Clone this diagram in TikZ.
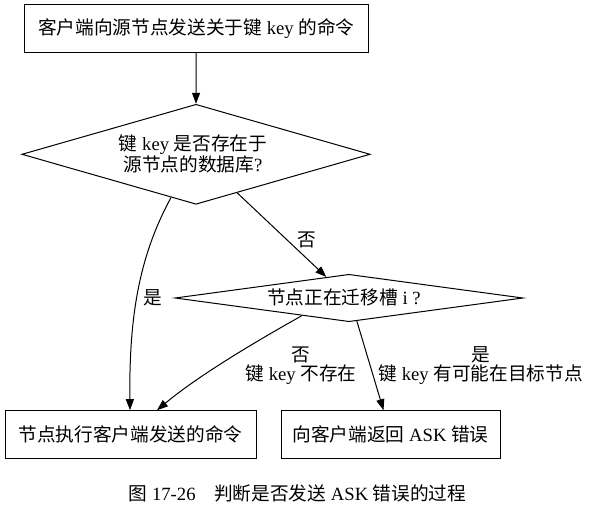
\documentclass[tikz,border=0pt]{standalone}
\usepackage{fontspec}
\setmainfont{Liberation Serif}
\newfontfamily\cjkfont{Noto Sans CJK SC}
\newcommand\zh[1]{{\cjkfont #1}}
\usetikzlibrary{arrows.meta,shapes.geometric,calc}
\tikzset{
  txt/.style={font=\fontsize{18.67}{19}\selectfont, inner sep=0pt, align=center},
  procbox/.style={draw, line width=1pt, rectangle, inner sep=0pt, minimum width=#1, minimum height=47.6pt, font=\fontsize{18.67}{19}\selectfont},
  decision/.style={draw, line width=1pt, diamond, inner sep=0pt},
  link/.style={draw, line width=1pt, -{Triangle[length=11pt,width=8pt]}}
}
\begin{document}
\begin{tikzpicture}[x=1pt,y=-1pt]
\fill[white] (0,0) rectangle (591,516);
\useasboundingbox (0,0) rectangle (591,516);

\node[procbox=344pt] (start) at (196.3,28.8) {\zh{客户端向源节点发送关于键} key \zh{的命令}};
\node[decision, minimum width=348.3pt, minimum height=100pt, aspect=3.48] (d1) at (196,154.3) {};
\node[txt] (d1t) at (193,154.3) {\zh{键} key \zh{是否存在于}\\\zh{源节点的数据库}?};
\node[decision, minimum width=348pt, minimum height=47.4pt, aspect=7.3] (d2) at (349,298) {};
\node[txt] (d2t) at (344,297.5) {\zh{节点正在迁移槽} i ?};
\node[procbox=251pt] (b1) at (130.5,434.5) {\zh{节点执行客户端发送的命令}};
\node[procbox=219pt] (b2) at (390.5,434.5) {\zh{向客户端返回} ASK \zh{错误}};

\coordinate (p1) at ($(d1.south)!0.143!(d1.west)$);
\coordinate (p2) at ($(d1.south)!0.236!(d1.east)$);
\coordinate (p3) at ($(d2.north)!0.13!(d2.west)$);
\coordinate (p4) at ($(d2.south)!0.27!(d2.west)$);
\coordinate (p5) at ($(d2.south)!0.045!(d2.east)$);

\draw[link] (start) -- (d1.north);
\draw[link] (p1) .. controls (138,258) and (129,320) .. ([xshift=-0.5pt]b1.north);
\draw[link] (p2) -- (p3);
\draw[link] (p4) .. controls (280,328) and (205,370) .. ([xshift=26.5pt]b1.north);
\draw[link] (p5) -- ([xshift=-7pt]b2.north);

\node[txt] (l1) at (306.7,240) {\zh{否}};
\node[txt] (l2) at (152.5,298) {\zh{是}};
\node[txt] (l3) at (301,366) {\zh{否}\\\zh{键} key \zh{不存在}};
\node[txt] (l4) at (480.6,366) {\zh{是}\\\zh{键} key \zh{有可能在目标节点}};

\node[txt] (cap) at (297.5,493.3) {\zh{图} 17-26\hspace{1em}\zh{判断是否发送} ASK \zh{错误的过程}};
\end{tikzpicture}
\end{document}
